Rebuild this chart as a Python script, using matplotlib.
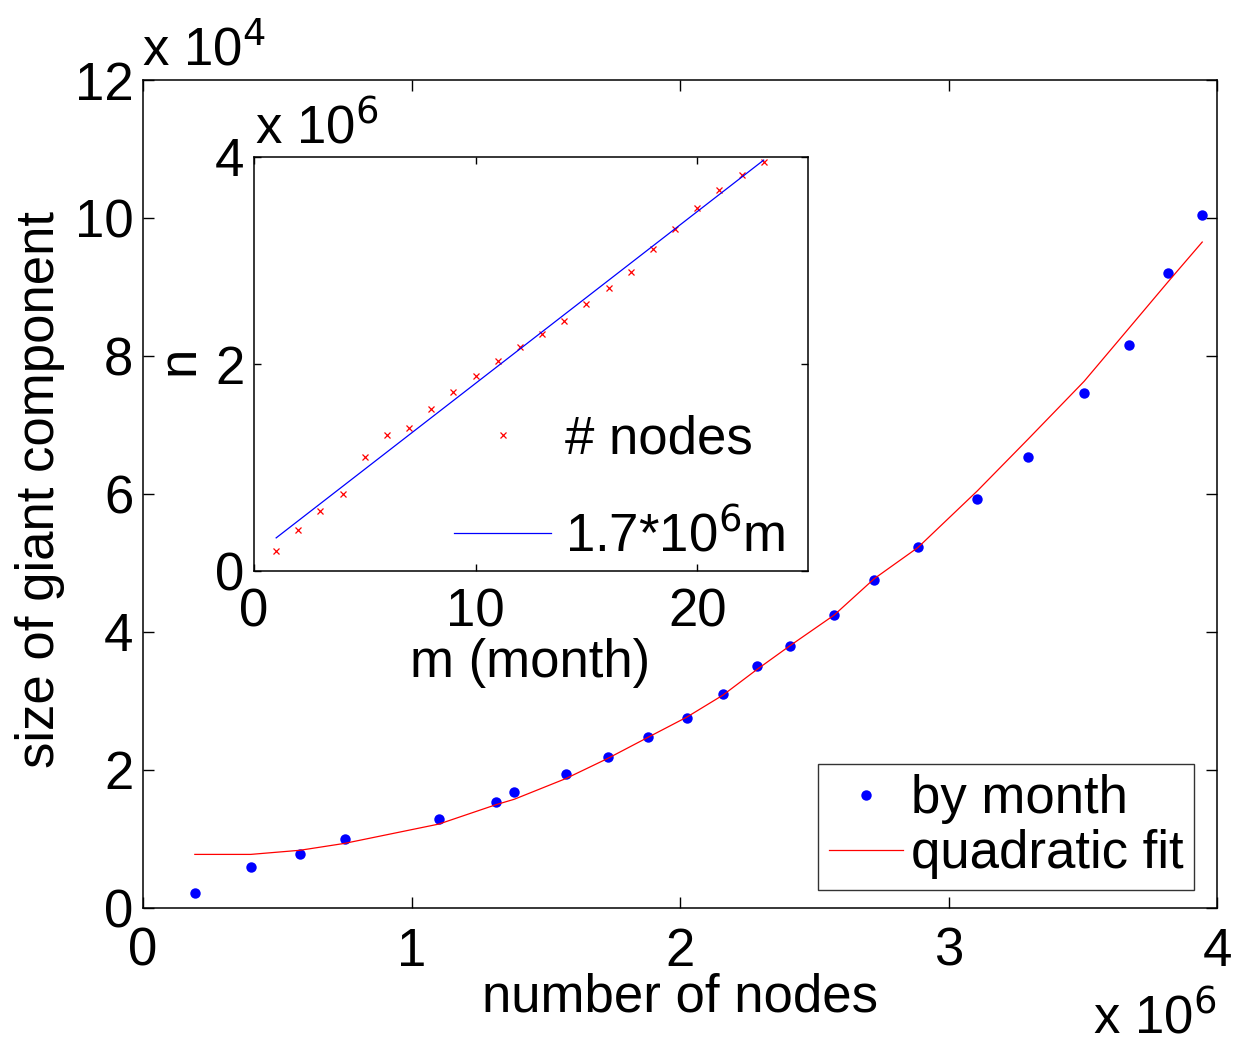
import matplotlib
matplotlib.use("Agg")
import matplotlib.pyplot as plt

plt.rcParams["font.family"] = ["Liberation Sans", "DejaVu Sans"]

# main plot: number of nodes (x 10^6) vs size of giant component (x 10^4)
nodes = [0.193, 0.401, 0.585, 0.751, 1.102, 1.314, 1.383, 1.575, 1.730, 1.882,
         2.025, 2.160, 2.286, 2.411, 2.574, 2.724, 2.886, 3.107, 3.296, 3.505,
         3.672, 3.817, 3.945]
giant = [0.21, 0.59, 0.78, 0.99, 1.28, 1.53, 1.67, 1.94, 2.18, 2.47,
         2.75, 3.09, 3.50, 3.79, 4.24, 4.75, 5.23, 5.92, 6.53, 7.46,
         8.16, 9.20, 10.04]
quad_fit = [0.77, 0.77, 0.83, 0.93, 1.21, 1.49, 1.57, 1.87, 2.16, 2.47,
            2.76, 3.08, 3.45, 3.80, 4.24, 4.77, 5.22, 6.04, 6.79, 7.63,
            8.40, 9.07, 9.65]

# inset: month vs number of nodes
months = list(range(1, 24))
month_nodes = [0.19, 0.40, 0.58, 0.74, 1.10, 1.31, 1.38, 1.57, 1.73, 1.88,
               2.03, 2.16, 2.29, 2.42, 2.58, 2.73, 2.89, 3.11, 3.30, 3.51,
               3.68, 3.83, 3.95]
lin_m = [1, 23]
lin_n = [0.32, 3.97]

FS = 38
W, H = 1234, 1043
fig = plt.figure(figsize=(W / 100, H / 100), dpi=100)

ax = fig.add_axes([143 / W, 1 - 907.5 / H, (1217 - 143) / W, (907.5 - 80) / H])
ax.plot(nodes, giant, "o", color="blue", markersize=7.5, markeredgewidth=0,
        label="by month")
ax.plot(nodes, quad_fit, "-", color="red", linewidth=0.9, label="quadratic fit")
ax.set_xlim(0, 4)
ax.set_ylim(0, 12)
ax.set_xticks([0, 1, 2, 3, 4])
ax.set_yticks([0, 2, 4, 6, 8, 10, 12])
ax.tick_params(direction="in", length=8, width=1, labelsize=FS, top=True, right=True)
ax.tick_params(axis="x", pad=14)
ax.tick_params(axis="y", pad=7)
for s in ax.spines.values():
    s.set_linewidth(1.1)
ax.set_xlabel("number of nodes", fontsize=FS, va="center")
ax.xaxis.set_label_coords((680 - 143) / 1074, (907.5 - 997) / 827.5)
ax.set_ylabel("size of giant component", fontsize=FS, va="center")
ax.yaxis.set_label_coords((40 - 143) / 1074, (907.5 - 490) / 827.5)
fig.text(142 / W, 1 - 66 / H, "x 10$^{4}$", fontsize=FS, ha="left", va="baseline")
fig.text(1216 / W, 1 - 1034 / H, "x 10$^{6}$", fontsize=FS, ha="right", va="baseline")
leg = ax.legend(loc="lower right", bbox_to_anchor=((1194 - 143) / 1074, (907.5 - 890) / 827.5),
                fontsize=FS, frameon=True, fancybox=False, edgecolor="black",
                borderpad=0.2, handlelength=1.4, handletextpad=0.15,
                labelspacing=0.1, borderaxespad=0)
leg.get_frame().set_linewidth(1.0)

ins = fig.add_axes([254 / W, 1 - 571 / H, 554 / W, 414 / H])
ins.plot(months, month_nodes, "x", color="red", markersize=5,
         markeredgewidth=0.9, label="# nodes")
ins.plot(lin_m, lin_n, "-", color="blue", linewidth=0.9,
         label="1.7*10$^{6}$m")
ins.set_xlim(0, 25)
ins.set_ylim(0, 4)
ins.set_xticks([0, 10, 20])
ins.set_yticks([0, 2, 4])
ins.tick_params(direction="in", length=5, width=1, labelsize=FS, top=True, right=True)
ins.tick_params(axis="x", pad=12)
ins.tick_params(axis="y", pad=7)
for s in ins.spines.values():
    s.set_linewidth(1.1)
ins.set_xlabel("m (month)", fontsize=FS, va="center")
ins.xaxis.set_label_coords((530 - 254) / 554, (571 - 663) / 414)
ins.set_ylabel("n", fontsize=FS, va="center")
ins.yaxis.set_label_coords((180 - 254) / 554, (571 - 360) / 414)
fig.text(255 / W, 1 - 144 / H, "x 10$^{6}$", fontsize=FS, ha="left", va="baseline")
ins.legend(loc="lower right", bbox_to_anchor=((785 - 254) / 554, (571 - 562) / 414),
           fontsize=FS, frameon=False, handlelength=1.85, handletextpad=0.25,
           labelspacing=0.85, borderpad=0, borderaxespad=0)

fig.savefig("out.png", dpi=100)
